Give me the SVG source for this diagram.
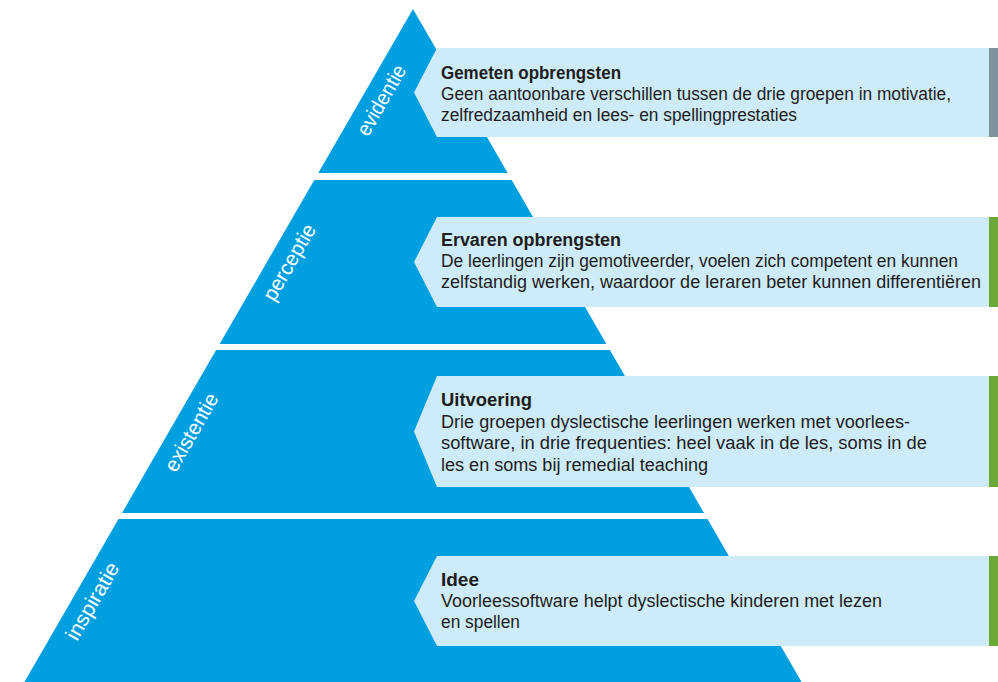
<svg xmlns="http://www.w3.org/2000/svg" width="998" height="682" viewBox="0 0 998 682">
  <style>
    .tier { fill: #009fdf; }
    .label { fill: #ffffff; font-family: "Liberation Sans", Arial, sans-serif; font-size: 21px; text-anchor: middle; dominant-baseline: central; }
    .card { fill: #cdebf8; }
    .bar-grey { fill: #7e939b; }
    .bar-green { fill: #69a937; }
    .title { fill: #1d1d1b; font-family: "Liberation Sans", Arial, sans-serif; font-size: 17.5px; font-weight: bold; }
    .body { fill: #1d1d1b; font-family: "Liberation Sans", Arial, sans-serif; font-size: 17.5px; }
  </style>

  <!-- Pyramid tiers with their rotated labels -->
  <g id="tier-evidentie">
    <polygon class="tier" points="413,9 507.7,173 318.3,173"/>
    <text class="label" transform="translate(381,100) rotate(-60)" textLength="78" lengthAdjust="spacingAndGlyphs">evidentie</text>
  </g>
  <g id="tier-perceptie">
    <polygon class="tier" points="314.3,180 511.7,180 606.4,344 219.6,344"/>
    <text class="label" transform="translate(289,262) rotate(-60)" textLength="85" lengthAdjust="spacingAndGlyphs">perceptie</text>
  </g>
  <g id="tier-existentie">
    <polygon class="tier" points="216.1,350 609.9,350 704,513 122,513"/>
    <text class="label" transform="translate(191,432) rotate(-60)" textLength="87" lengthAdjust="spacingAndGlyphs">existentie</text>
  </g>
  <g id="tier-inspiratie">
    <polygon class="tier" points="118.5,519 707.5,519 806.2,690 19.8,690"/>
    <text class="label" transform="translate(92,601) rotate(-60)" textLength="86" lengthAdjust="spacingAndGlyphs">inspiratie</text>
  </g>

  <!-- Description cards pointing into the pyramid -->
  <g id="card-gemeten">
    <polygon class="card" points="437,48 989,48 989,137 437,137 414,92.5"/>
    <rect class="bar-grey" x="989" y="48" width="9" height="89"/>
    <text class="title" x="441" y="78.5" textLength="180" lengthAdjust="spacingAndGlyphs">Gemeten opbrengsten</text>
    <text class="body" x="441" y="100" textLength="510" lengthAdjust="spacingAndGlyphs">Geen aantoonbare verschillen tussen de drie groepen in motivatie,</text>
    <text class="body" x="441" y="121" textLength="356" lengthAdjust="spacingAndGlyphs">zelfredzaamheid en lees- en spellingprestaties</text>
  </g>

  <g id="card-ervaren">
    <polygon class="card" points="437,217 989,217 989,307 437,307 414,262"/>
    <rect class="bar-green" x="989" y="217" width="9" height="90"/>
    <text class="title" x="441" y="246" textLength="180" lengthAdjust="spacingAndGlyphs">Ervaren opbrengsten</text>
    <text class="body" x="441" y="267" textLength="517" lengthAdjust="spacingAndGlyphs">De leerlingen zijn gemotiveerder, voelen zich competent en kunnen</text>
    <text class="body" x="441" y="288" textLength="540" lengthAdjust="spacingAndGlyphs">zelfstandig werken, waardoor de leraren beter kunnen differentiëren</text>
  </g>

  <g id="card-uitvoering">
    <polygon class="card" points="437,376 989,376 989,487 437,487 414,431.5"/>
    <rect class="bar-green" x="989" y="376" width="9" height="111"/>
    <text class="title" x="441" y="406" textLength="91" lengthAdjust="spacingAndGlyphs">Uitvoering</text>
    <text class="body" x="441" y="427.5" textLength="469" lengthAdjust="spacingAndGlyphs">Drie groepen dyslectische leerlingen werken met voorlees-</text>
    <text class="body" x="441" y="449" textLength="486" lengthAdjust="spacingAndGlyphs">software, in drie frequenties: heel vaak in de les, soms in de</text>
    <text class="body" x="441" y="470.5" textLength="267" lengthAdjust="spacingAndGlyphs">les en soms bij remedial teaching</text>
  </g>

  <g id="card-idee">
    <polygon class="card" points="437,556 989,556 989,646 437,646 414,601"/>
    <rect class="bar-green" x="989" y="556" width="9" height="90"/>
    <text class="title" x="441" y="586" textLength="38" lengthAdjust="spacingAndGlyphs">Idee</text>
    <text class="body" x="441" y="607" textLength="441" lengthAdjust="spacingAndGlyphs">Voorleessoftware helpt dyslectische kinderen met lezen</text>
    <text class="body" x="441" y="628" textLength="79" lengthAdjust="spacingAndGlyphs">en spellen</text>
  </g>
</svg>
